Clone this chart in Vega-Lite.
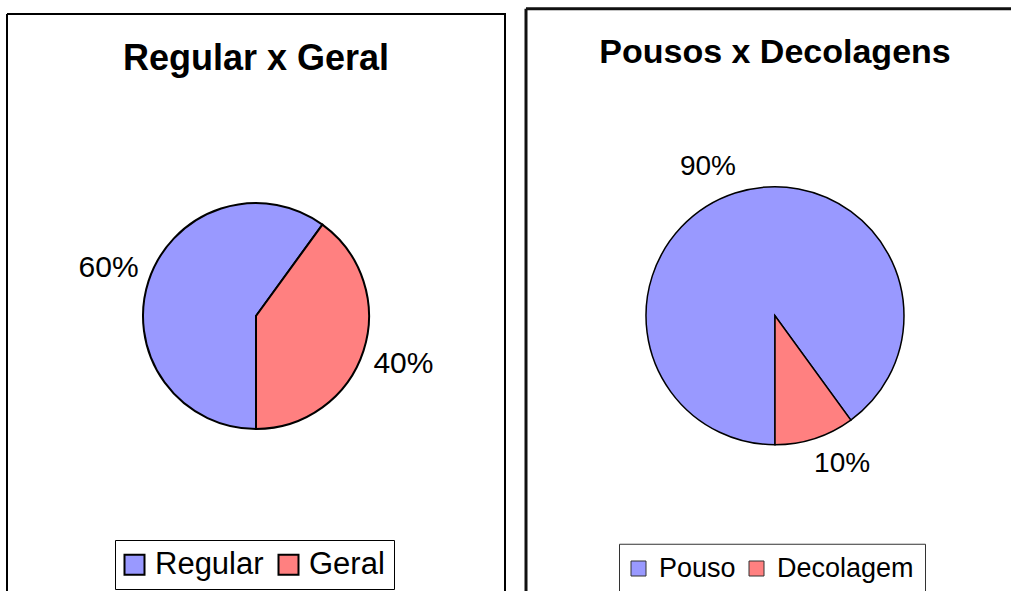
{
  "$schema": "https://vega.github.io/schema/vega-lite/v6.json",
  "padding": {"left": 6, "top": 6.5, "right": 0, "bottom": 0},
  "spacing": 18,
  "center": true,
  "background": "white",
  "resolve": {"scale": {"color": "independent", "theta": "independent"}, "legend": {"color": "independent"}},
  "config": {"font": "Liberation Sans", "view": {"stroke": null}},
  "hconcat": [
    {
      "width": 498,
      "height": 604,
      "view": {"stroke": "black", "strokeWidth": 2, "strokeDash": [1102, 498, 604, 0]},
      "title": {"text": "Regular x Geral", "fontSize": 36, "fontWeight": "bold", "color": "black", "font": "Liberation Sans", "frame": "group", "anchor": "middle", "offset": -92, "baseline": "alphabetic"},
      "data": {"values": [
        {"cat": "Regular", "value": 60, "label": "60%", "ord": 1},
        {"cat": "Geral", "value": 40, "label": "40%", "ord": 2}
      ]},
      "encoding": {
        "theta": {"field": "value", "type": "quantitative", "stack": true, "scale": {"range": [3.14159265, 9.42477796]}},
        "order": {"field": "ord", "type": "quantitative"}
      },
      "layer": [
        {
          "mark": {"type": "arc", "outerRadius": 113, "stroke": "black", "strokeWidth": 2},
          "encoding": {
            "color": {"field": "cat", "type": "nominal",
              "scale": {"domain": ["Regular", "Geral"], "range": ["#9999FF", "#FF8080"]},
              "legend": {"orient": "none", "legendX": 108, "legendY": 526, "direction": "horizontal", "title": null,
                "symbolType": "square", "symbolSize": 400, "symbolStrokeColor": "black", "symbolStrokeWidth": 2, "symbolOffset": -5,
                "labelFontSize": 31, "labelColor": "black", "labelFont": "Liberation Sans", "labelOffset": 5,
                "columnPadding": 10, "padding": 9, "strokeColor": "black", "fillColor": "white", "labelLimit": 300}
            }
          }
        },
        {
          "mark": {"type": "text", "radius": 155, "fontSize": 30, "color": "black", "font": "Liberation Sans", "align": "center", "baseline": "middle"},
          "encoding": {"text": {"field": "label"}}
        }
      ]
    },
    {
      "width": 498,
      "height": 614,
      "view": {"stroke": "#111111", "strokeWidth": 3, "strokeDash": [498, 1112, 614, 0]},
      "title": {"text": "Pousos x Decolagens", "fontSize": 34, "fontWeight": "bold", "color": "black", "font": "Liberation Sans", "frame": "group", "anchor": "middle", "offset": -88, "baseline": "alphabetic"},
      "data": {"values": [
        {"cat": "Pouso", "value": 90, "label": "90%", "ord": 1},
        {"cat": "Decolagem", "value": 10, "label": "10%", "ord": 2}
      ]},
      "encoding": {
        "theta": {"field": "value", "type": "quantitative", "stack": true, "scale": {"range": [3.14159265, 9.42477796]}},
        "order": {"field": "ord", "type": "quantitative"}
      },
      "layer": [
        {
          "mark": {"type": "arc", "outerRadius": 129, "stroke": "black", "strokeWidth": 1.5},
          "encoding": {
            "color": {"field": "cat", "type": "nominal",
              "scale": {"domain": ["Pouso", "Decolagem"], "range": ["#9999FF", "#FF8080"]},
              "legend": {"orient": "none", "legendX": 93, "legendY": 535, "direction": "horizontal", "title": null,
                "symbolType": "square", "symbolSize": 225, "symbolStrokeColor": "#333333", "symbolStrokeWidth": 1, "symbolOffset": -5,
                "labelFontSize": 27, "labelColor": "black", "labelFont": "Liberation Sans", "labelOffset": 7,
                "columnPadding": 11, "padding": 11, "strokeColor": "#333333", "fillColor": "white", "labelLimit": 300}
            }
          }
        },
        {
          "mark": {"type": "text", "radius": 163, "thetaOffset": -0.11, "fontSize": 28, "color": "black", "font": "Liberation Sans", "align": "center", "baseline": "middle"},
          "encoding": {"text": {"field": "label"}}
        }
      ]
    }
  ]
}
